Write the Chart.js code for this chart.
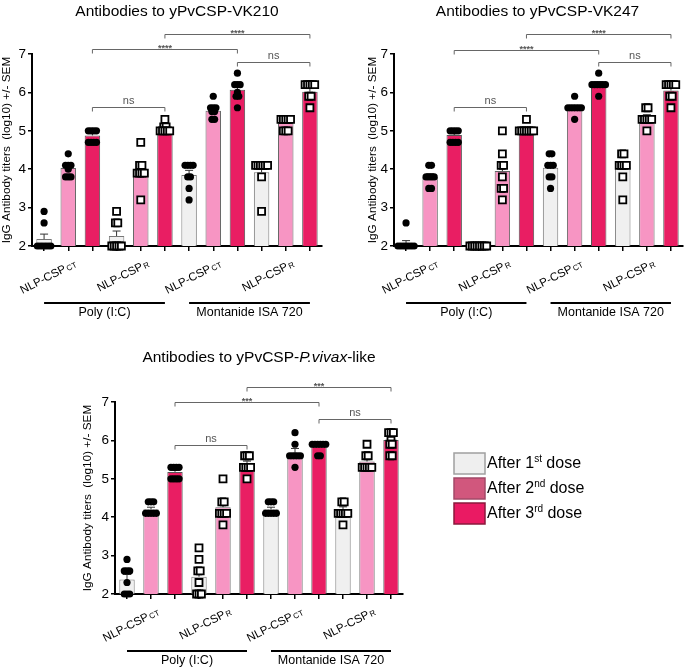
<!DOCTYPE html>
<html><head><meta charset="utf-8">
<script src="https://cdn.jsdelivr.net/npm/chart.js@4.4.0/dist/chart.umd.min.js"></script>
<style>
html,body{margin:0;padding:0;background:#fff;}
#wrap{position:relative;width:685px;height:669px;}
canvas{position:absolute;left:0;top:0;}
</style></head>
<body><div id="wrap">
<canvas id="c1" width="685" height="669"></canvas>
<canvas id="c2" width="685" height="669"></canvas>
<canvas id="c3" width="685" height="669"></canvas>
</div>
<script>
// ---------- DATA ----------
const categories = ['Poly CT d1','Poly CT d2','Poly CT d3','Poly R d1','Poly R d2','Poly R d3',
                    'Mont CT d1','Mont CT d2','Mont CT d3','Mont R d1','Mont R d2','Mont R d3'];
const doseLabels = [['After 1','st',' dose'],['After 2','nd',' dose'],['After 3','rd',' dose']];
const constructLabels = [['NLP-CSP','CT'],['NLP-CSP','R'],['NLP-CSP','CT'],['NLP-CSP','R']];
const constructLabelAt = [1,4,7,10];
const adjuvantLabels = ['Poly (I:C)','Montanide ISA 720'];
const adjuvantSpans = [[0,5],[6,11]];
const yTickMin = 2, yTickMax = 7;
const yAxisTitle = 'IgG Antibody titers  (log10) +/- SEM';

// VK210
const vk210Means = [2.18,4.03,4.88,2.26,3.92,5.08,3.85,5.52,6.07,3.92,5.2,6.02];
const vk210Sem   = [0.13,0.08,0.05,0.13,0.17,0.04,0.12,0.07,0.1,0.14,0.05,0.08];
const vk210Points = [
  [2.9,2.6,2,2,2,2,2,2],[4.4,4.1,4.1,4.1,4.0,3.8,3.8,3.8],[5.0,5.0,5.0,5.0,4.7,4.7,4.7,4.7],
  [2.9,2.6,2.6,2,2,2,2,2],[4.7,4.1,4.1,3.9,3.9,3.9,3.9,3.2],[5.3,5.1,5.1,5.0,5.0,5.0,5.0,5.0],
  [4.1,4.1,4.1,4.1,3.8,3.8,3.5,3.2],[5.9,5.6,5.6,5.6,5.5,5.5,5.3,5.3],[6.5,6.2,6.2,6.2,6.0,5.9,5.9,5.6],
  [4.1,4.1,4.1,4.1,4.1,4.1,3.8,2.9],[5.3,5.3,5.3,5.3,5.3,5.0,5.0,5.0],[6.2,6.2,6.2,6.2,6.2,5.9,5.9,5.6]];
const vk210Brackets = [[2,5,5.62,'ns'],[2,8,7.13,'****'],[5,11,7.52,'****'],[8,11,6.79,'ns']];

// VK247
const vk247Means = [2.06,3.8,4.89,2.0,3.95,5.05,4.04,5.6,6.2,4.05,5.35,6.05];
const vk247Sem   = [0.08,0.08,0.05,0,0.2,0.04,0.1,0.06,0.07,0.14,0.07,0.08];
const vk247Points = [
  [2.6,2,2,2,2,2,2,2],[4.1,4.1,3.8,3.8,3.8,3.8,3.5,3.5],[5.0,5.0,5.0,5.0,4.7,4.7,4.7,4.7],
  [2,2,2,2,2,2,2,2],[5.0,4.4,4.1,4.1,3.8,3.5,3.5,3.2],[5.3,5.0,5.0,5.0,5.0,5.0,5.0,5.0],
  [4.4,4.4,4.1,4.1,4.1,3.8,3.8,3.5],[5.9,5.6,5.6,5.6,5.6,5.6,5.6,5.3],[6.5,6.2,6.2,6.2,6.2,6.2,6.2,5.9],
  [4.4,4.4,4.1,4.1,4.1,4.1,3.8,3.2],[5.6,5.6,5.3,5.3,5.3,5.3,5.3,5.0],[6.2,6.2,6.2,6.2,6.2,5.9,5.9,5.6]];
const vk247Brackets = [[2,5,5.63,'ns'],[2,8,7.1,'****'],[5,11,7.52,'****'],[8,11,6.79,'ns']];

// P.vivax-like
const vivaxMeans = [2.38,4.21,5.18,2.45,4.26,5.38,4.21,5.67,5.84,4.19,5.45,6.01];
const vivaxSem   = [0.13,0.05,0.05,0.15,0.12,0.08,0.05,0.12,0.04,0.08,0.08,0.06];
const vivaxPoints = [
  [2.9,2.6,2.6,2.6,2.3,2,2,2],[4.4,4.4,4.4,4.1,4.1,4.1,4.1,4.1],[5.3,5.3,5.3,5.3,5.0,5.0,5.0,5.0],
  [3.2,2.9,2.6,2.6,2.3,2,2,2],[5.0,4.4,4.4,4.1,4.1,4.1,4.1,3.8],[5.6,5.6,5.6,5.3,5.3,5.3,5.3,5.0],
  [4.4,4.4,4.4,4.1,4.1,4.1,4.1,4.1],[6.2,5.9,5.6,5.6,5.6,5.6,5.6,5.3],[5.9,5.9,5.9,5.9,5.9,5.9,5.6,5.6],
  [4.4,4.4,4.1,4.1,4.1,4.1,4.1,3.8],[5.9,5.6,5.6,5.3,5.3,5.3,5.3,5.3],[6.2,6.2,6.2,6.0,5.9,5.9,5.6,5.6]];
const vivaxBrackets = [[2,5,5.88,'ns'],[2,8,7.01,'***'],[5,11,7.40,'***'],[8,11,6.55,'ns']];

// ---------- STYLE ----------
const FONT = "'Liberation Sans', Arial, sans-serif";
const doseFill   = ['#f0f0f0','#f795c3','#e91e63'];
const doseBorder = ['#777777','#666666','#555555'];
const legendFill = ['#efefef','#d1577d','#ea1a63'];
const legendBorder = ['#a0a0a0','#a24a68','#8a1a3c'];

function markerIsSquare(i){ return Math.floor(i/3)%2===1; }

function drawBeeswarm(ctx, cx, ys, pts, square){
  const counts = new Map();
  pts.forEach(v => counts.set(v, (counts.get(v)||0)+1));
  counts.forEach((n, v) => {
    const y = ys.getPixelForValue(v);
    const sp = square ? 2.4 : 2.7;
    for (let k=0;k<n;k++){
      const x = cx + (k-(n-1)/2)*sp;
      ctx.beginPath();
      if (square){
        ctx.rect(x-3.5, y-3.5, 7, 7);
        ctx.fillStyle='#fff'; ctx.fill();
        ctx.lineWidth=1.8; ctx.strokeStyle='#000'; ctx.stroke();
      } else {
        ctx.arc(x, y, 3.6, 0, Math.PI*2);
        ctx.fillStyle='#000'; ctx.fill();
      }
    }
  });
}

function richWidth(ctx, segs){
  let w=0; segs.forEach(s=>{ctx.font=s.font; w+=ctx.measureText(s.t).width;}); return w;
}
function drawRich(ctx, segs, x, y){
  segs.forEach(s=>{ctx.font=s.font; ctx.fillText(s.t, x, y+(s.dy||0)); x+=ctx.measureText(s.t).width;});
}

function overlay(cfg){
  return {
    id:'overlay',
    afterDatasetsDraw(chart){
      const ctx=chart.ctx, xs=chart.scales.x, ys=chart.scales.y;
      ctx.save();
      // error bars (mean + SEM)
      cfg.means.forEach((m,i)=>{
        const x=xs.getPixelForValue(i), y1=ys.getPixelForValue(m), y2=ys.getPixelForValue(m+cfg.sem[i]);
        if (cfg.sem[i]<=0) return;
        ctx.strokeStyle='#333'; ctx.lineWidth=1;
        ctx.beginPath(); ctx.moveTo(x,y1); ctx.lineTo(x,y2); ctx.moveTo(x-4,y2); ctx.lineTo(x+4,y2); ctx.stroke();
      });
      // individual points
      cfg.points.forEach((pts,i)=> drawBeeswarm(ctx, xs.getPixelForValue(i), ys, pts, markerIsSquare(i)));
      ctx.restore();
    },
    afterDraw(chart){
      const ctx=chart.ctx, xs=chart.scales.x, ys=chart.scales.y, ca=chart.chartArea;
      ctx.save();
      ctx.fillStyle='#000';
      // title
      ctx.textBaseline='alphabetic';
      const tw = richWidth(ctx, cfg.title);
      const tcx = (ca.left+ca.right)/2 + cfg.titleDx;
      drawRich(ctx, cfg.title, tcx - tw/2, cfg.titleY);
      // y title
      ctx.save();
      ctx.translate(ys.left+7, (ca.top+ca.bottom)/2);
      ctx.rotate(-Math.PI/2);
      ctx.font='11.8px '+FONT; ctx.textAlign='center'; ctx.textBaseline='middle';
      ctx.fillText(yAxisTitle,0,0);
      ctx.restore();
      // brackets
      cfg.brackets.forEach(([a,b,lvl,lab])=>{
        const x1=xs.getPixelForValue(a), x2=xs.getPixelForValue(b), y=Math.round(ys.getPixelForValue(lvl))+0.5;
        ctx.strokeStyle='#666'; ctx.lineWidth=1;
        ctx.beginPath(); ctx.moveTo(x1,y+4); ctx.lineTo(x1,y); ctx.lineTo(x2,y); ctx.lineTo(x2,y+4); ctx.stroke();
        ctx.fillStyle='#555'; ctx.textAlign='center';
        if (lab==='ns'){ ctx.font='11px '+FONT; ctx.textBaseline='alphabetic'; ctx.fillText(lab,(x1+x2)/2,y-4); }
        else { ctx.font='bold 9px '+FONT; ctx.textBaseline='alphabetic'; ctx.fillText(lab,(x1+x2)/2,y+1); }
      });
      // construct labels (rotated, with subscript)
      ctx.fillStyle='#000';
      constructLabelAt.forEach((idx,k)=>{
        const [main,sub]=constructLabels[k];
        const x=xs.getPixelForValue(idx)+5, y=ca.bottom+12;
        ctx.save(); ctx.translate(x,y); ctx.rotate(-27*Math.PI/180);
        ctx.textAlign='left'; ctx.textBaseline='alphabetic';
        ctx.font='11.5px '+FONT; const w1=ctx.measureText(main).width;
        ctx.font='8px '+FONT; const w2=ctx.measureText(sub).width;
        ctx.font='11.5px '+FONT; ctx.fillText(main,-(w1+w2+1),9);
        ctx.font='8px '+FONT; ctx.fillText(sub,-w2,9.5);
        ctx.restore();
      });
      // adjuvant group lines
      adjuvantSpans.forEach(([a,b],k)=>{
        const x1=xs.getPixelForValue(a), x2=xs.getPixelForValue(b), y=ca.bottom+57;
        ctx.strokeStyle='#000'; ctx.lineWidth=2;
        ctx.beginPath(); ctx.moveTo(x1,y); ctx.lineTo(x2,y); ctx.stroke();
        ctx.font='12.5px '+FONT; ctx.textAlign='center'; ctx.textBaseline='alphabetic';
        ctx.fillText(adjuvantLabels[k],(x1+x2)/2,y+13);
      });
      // legend
      if (cfg.legend){
        const L=cfg.legend;
        doseLabels.forEach((lab,k)=>{
          const y=L.y[k];
          ctx.fillStyle=legendFill[k]; ctx.strokeStyle=legendBorder[k]; ctx.lineWidth=1.5;
          ctx.fillRect(L.x,y,L.w,L.h); ctx.strokeRect(L.x,y,L.w,L.h);
          ctx.fillStyle='#000'; ctx.textAlign='left'; ctx.textBaseline='alphabetic';
          drawRich(ctx,[{t:lab[0],font:'16px '+FONT},{t:lab[1],font:'10px '+FONT,dy:-6},{t:lab[2],font:'16px '+FONT}],L.x+L.w+2,y+15);
        });
      }
      ctx.restore();
    }
  };
}

function makeChart(id, cfg){
  const ctx=document.getElementById(id).getContext('2d');
  return new Chart(ctx,{
    type:'bar',
    data:{labels:categories, datasets:[{
      data:cfg.means,
      backgroundColor:categories.map((c,i)=>doseFill[i%3]),
      borderColor:categories.map((c,i)=>doseBorder[i%3]),
      borderWidth:1, barPercentage:0.64, categoryPercentage:1.0
    }]},
    options:{
      responsive:false, animation:false, devicePixelRatio:1,
      layout:{padding:cfg.padding},
      plugins:{legend:{display:false}, tooltip:{enabled:false}, title:{display:false}},
      scales:{
        x:{offset:true,
           grid:{display:true,drawOnChartArea:false,drawTicks:true,tickLength:5,offset:false,color:'#000',lineWidth:1.5},
           border:{display:true,color:'#000',width:2},
           ticks:{display:false},
           afterFit:s=>{s.height=6;}},
        y:{min:yTickMin,max:yTickMax,
           grid:{display:true,drawOnChartArea:false,drawTicks:true,tickLength:4,color:'#000',lineWidth:1.5},
           border:{display:true,color:'#000',width:2},
           ticks:{stepSize:1,color:'#000',padding:2,font:{family:FONT,size:13.5}},
           afterFit:s=>{s.width=cfg.yWidth;}}
      }
    },
    plugins:[overlay(cfg)]
  });
}

const T = (t,style)=>({t, font:(style||'')+'15.5px '+FONT});
makeChart('c1',{means:vk210Means,sem:vk210Sem,points:vk210Points,brackets:vk210Brackets,
  title:[T('Antibodies to yPvCSP-VK210')], titleY:16, titleDx:0,
  padding:{left:0,top:54,right:363,bottom:669-246-6}, yWidth:32});
makeChart('c2',{means:vk247Means,sem:vk247Sem,points:vk247Points,brackets:vk247Brackets,
  title:[T('Antibodies to yPvCSP-VK247')], titleY:16, titleDx:-1,
  padding:{left:366,top:54,right:2,bottom:669-246-6}, yWidth:28});
makeChart('c3',{means:vivaxMeans,sem:vivaxSem,points:vivaxPoints,brackets:vivaxBrackets,
  title:[T('Antibodies to yPvCSP-'),T('P.vivax','italic '),T('-like')], titleY:362, titleDx:0,
  padding:{left:81,top:402,right:282,bottom:669-594-6}, yWidth:34,
  legend:{x:454,w:31,h:21,y:[453,478,503]}});
</script>
</body></html>
